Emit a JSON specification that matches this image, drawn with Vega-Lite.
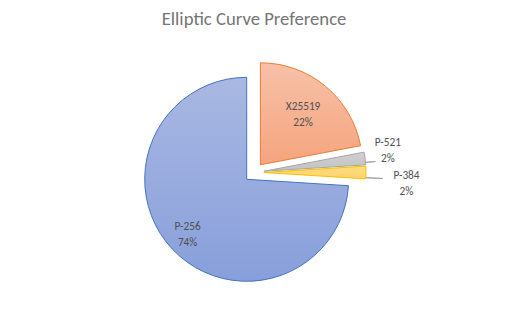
{
  "$schema": "https://vega.github.io/schema/vega-lite/v6.json",
  "width": 508,
  "height": 315,
  "autosize": {"type": "fit", "contains": "padding"},
  "padding": {"top": 10, "bottom": 7, "left": 0, "right": 0},
  "background": "white",
  "config": {"view": {"stroke": null}},
  "title": {
    "text": "Elliptic Curve Preference",
    "font": "Carlito, Calibri, Roboto, sans-serif",
    "fontSize": 18.7,
    "fontWeight": "normal",
    "color": "#757575",
    "anchor": "middle",
    "offset": 8
  },
  "data": {
    "values": [
      {"name": "X25519", "value": 22},
      {"name": "P-521", "value": 2},
      {"name": "P-384", "value": 2},
      {"name": "P-256", "value": 74}
    ]
  },
  "transform": [
    {"stack": "value", "groupby": [], "as": ["v0", "v1"]},
    {"calculate": "datum.name + '\\n' + datum.value + '%'", "as": "label"}
  ],
  "layer": [
    {
      "transform": [{"filter": "datum.name === 'P-256'"}],
      "mark": {
        "type": "arc", "outerRadius": 102, "xOffset": -7.3, "yOffset": 6.8,
        "stroke": "#4472C4", "strokeWidth": 1,
        "fill": {"gradient": "linear", "x1": 0, "y1": 0, "x2": 0, "y2": 1,
          "stops": [{"offset": 0, "color": "#A9B8E2"}, {"offset": 1, "color": "#889FDB"}]}
      },
      "encoding": {
        "theta": {"field": "v0", "type": "quantitative", "scale": {"domain": [0, 100]}},
        "theta2": {"field": "v1"}
      }
    },
    {
      "transform": [{"filter": "datum.name === 'X25519'"}],
      "mark": {
        "type": "arc", "outerRadius": 102, "xOffset": 6.4, "yOffset": -7.7,
        "stroke": "#ED7D31", "strokeWidth": 1,
        "fill": {"gradient": "linear", "x1": 0, "y1": 0, "x2": 0, "y2": 1,
          "stops": [{"offset": 0, "color": "#F7C1A8"}, {"offset": 1, "color": "#F5A47E"}]}
      },
      "encoding": {
        "theta": {"field": "v0", "type": "quantitative", "scale": {"domain": [0, 100]}},
        "theta2": {"field": "v1"}
      }
    },
    {
      "transform": [{"filter": "datum.name === 'P-521'"}],
      "mark": {
        "type": "arc", "outerRadius": 102, "xOffset": 9.9, "yOffset": -1.25,
        "stroke": "#A5A5A5", "strokeWidth": 1,
        "fill": {"gradient": "linear", "x1": 0, "y1": 0, "x2": 0, "y2": 1,
          "stops": [{"offset": 0, "color": "#D0D0D0"}, {"offset": 1, "color": "#C2C2C2"}]}
      },
      "encoding": {
        "theta": {"field": "v0", "type": "quantitative", "scale": {"domain": [0, 100]}},
        "theta2": {"field": "v1"}
      }
    },
    {
      "transform": [{"filter": "datum.name === 'P-384'"}],
      "mark": {
        "type": "arc", "outerRadius": 102, "xOffset": 10, "yOffset": 0,
        "stroke": "#FFC000", "strokeWidth": 1,
        "fill": {"gradient": "linear", "x1": 0, "y1": 0, "x2": 0, "y2": 1,
          "stops": [{"offset": 0, "color": "#FFDC84"}, {"offset": 1, "color": "#FFD36C"}]}
      },
      "encoding": {
        "theta": {"field": "v0", "type": "quantitative", "scale": {"domain": [0, 100]}},
        "theta2": {"field": "v1"}
      }
    },
    {
      "transform": [{"filter": "datum.name === 'P-521'"}],
      "mark": {
        "type": "arc", "innerRadius": 102, "outerRadius": 112, "xOffset": 9.9, "yOffset": -1.25,
        "thetaOffset": -0.024, "theta2Offset": -0.024, "stroke": "#A6A6A6", "strokeWidth": 1, "fill": "transparent"
      },
      "encoding": {
        "theta": {"field": "v1", "type": "quantitative", "scale": {"domain": [0, 100]}},
        "theta2": {"field": "v1"}
      }
    },
    {
      "transform": [{"filter": "datum.name === 'P-384'"}],
      "mark": {
        "type": "arc", "innerRadius": 102, "outerRadius": 119, "xOffset": 10, "yOffset": 0,
        "thetaOffset": -0.012, "theta2Offset": -0.012, "stroke": "#A6A6A6", "strokeWidth": 1, "fill": "transparent"
      },
      "encoding": {
        "theta": {"field": "v1", "type": "quantitative", "scale": {"domain": [0, 100]}},
        "theta2": {"field": "v1"}
      }
    },
    {
      "mark": {"type": "text", "radius": 81, "xOffset": -7.3, "yOffset": 6.8, "dy": -8,
        "font": "Carlito, Calibri, Roboto, sans-serif", "fontSize": 11.3, "color": "#505050",
        "lineBreak": "\n", "lineHeight": 16, "align": "center"},
      "encoding": {
        "theta": {"field": "value", "type": "quantitative", "stack": true, "scale": {"domain": [0, 100]}},
        "order": {"field": "v0", "sort": "ascending"},
        "text": {"condition": {"test": "datum.name === 'P-256'", "field": "label"}, "value": ""}
      }
    },
    {
      "mark": {"type": "text", "radius": 67, "xOffset": 6.4, "yOffset": -7.7, "dy": -6,
        "font": "Carlito, Calibri, Roboto, sans-serif", "fontSize": 11.3, "color": "#505050",
        "lineBreak": "\n", "lineHeight": 16, "align": "center"},
      "encoding": {
        "theta": {"field": "value", "type": "quantitative", "stack": true, "scale": {"domain": [0, 100]}},
        "order": {"field": "v0", "sort": "ascending"},
        "text": {"condition": {"test": "datum.name === 'X25519'", "field": "label"}, "value": ""}
      }
    },
    {
      "mark": {"type": "text", "radius": 125, "xOffset": 9.9, "yOffset": -1.25, "dy": -13,
        "font": "Carlito, Calibri, Roboto, sans-serif", "fontSize": 11.3, "color": "#505050",
        "lineBreak": "\n", "lineHeight": 16, "align": "center"},
      "encoding": {
        "theta": {"field": "value", "type": "quantitative", "stack": true, "scale": {"domain": [0, 100]}},
        "order": {"field": "v0", "sort": "ascending"},
        "text": {"condition": {"test": "datum.name === 'P-521'", "field": "label"}, "value": ""}
      }
    },
    {
      "mark": {"type": "text", "radius": 142.5, "xOffset": 10, "yOffset": 0, "dy": 3,
        "font": "Carlito, Calibri, Roboto, sans-serif", "fontSize": 11.3, "color": "#505050",
        "lineBreak": "\n", "lineHeight": 16, "align": "center"},
      "encoding": {
        "theta": {"field": "value", "type": "quantitative", "stack": true, "scale": {"domain": [0, 100]}},
        "order": {"field": "v0", "sort": "ascending"},
        "text": {"condition": {"test": "datum.name === 'P-384'", "field": "label"}, "value": ""}
      }
    }
  ]
}
